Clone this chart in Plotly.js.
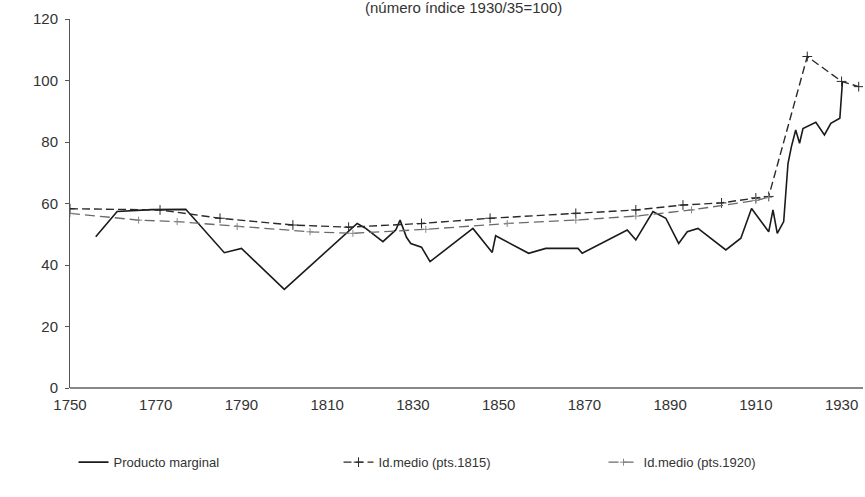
<!DOCTYPE html>
<html>
<head>
<meta charset="utf-8">
<script src="https://cdn.plot.ly/plotly-3.0.1.min.js"></script>
<style>html,body{margin:0;padding:0;background:#fff;}#chart{width:865px;height:497px;}</style>
</head>
<body>
<div id="chart"></div>
<script>
// Producto marginal (solid line)
const pmYears = [1756, 1761, 1769, 1777, 1786, 1790, 1800, 1817, 1819, 1823, 1826, 1827, 1828.5, 1829.5, 1832, 1834, 1844, 1848.5, 1849.3, 1857, 1861, 1868.5, 1869.5, 1880, 1882, 1886, 1889, 1892, 1894, 1896.5, 1903, 1906.5, 1909, 1913, 1914, 1915, 1916.5, 1917.5, 1918.3, 1919.3, 1920.2, 1921, 1924, 1926, 1927.5, 1929.6, 1930.2];
const pmValues = [49.2, 57.4, 58.0, 58.1, 44.0, 45.4, 32.1, 53.5, 51.9, 47.6, 51.4, 54.6, 49.0, 47.0, 45.8, 41.1, 51.9, 44.1, 49.5, 43.8, 45.4, 45.4, 43.8, 51.4, 48.2, 57.4, 55.2, 47.0, 50.8, 51.9, 44.9, 48.7, 58.4, 50.8, 57.9, 50.3, 54.1, 73.0, 78.5, 83.9, 79.6, 84.4, 86.4, 82.3, 86.1, 87.7, 99.5];

// Id.medio (pts.1815)
const m1815Years = [1750, 1771, 1785, 1802, 1815, 1832, 1848, 1868, 1882, 1893, 1902, 1910, 1913, 1922, 1930, 1934];
const m1815Values = [58.3, 57.9, 55.2, 53.0, 52.3, 53.5, 55.2, 56.8, 57.9, 59.5, 60.2, 61.8, 62.3, 107.8, 99.7, 98.0];

// Id.medio (pts.1920)
const m1920Years = [1750, 1766, 1775, 1789, 1806, 1816, 1833, 1852, 1868, 1882, 1895, 1910, 1913];
const m1920Values = [56.8, 54.6, 54.1, 52.5, 50.8, 50.3, 51.6, 53.5, 54.6, 55.9, 57.9, 61.0, 62.0];

const xTicks = [1750, 1770, 1790, 1810, 1830, 1850, 1870, 1890, 1910, 1930];
const yTicks = [0, 20, 40, 60, 80, 100, 120];

const traces = [
  {x: pmYears, y: pmValues, name: 'Producto marginal', type: 'scatter', mode: 'lines',
   line: {color: '#1a1a1a', width: 1.6}},
  {x: m1815Years, y: m1815Values, name: 'Id.medio (pts.1815)', type: 'scatter', mode: 'lines+markers',
   line: {color: '#2a2a2a', width: 1.4, dash: '8px,4px'},
   marker: {symbol: 'cross-thin', size: 7, line: {color: '#2a2a2a', width: 1}}},
  {x: m1920Years, y: m1920Values, name: 'Id.medio (pts.1920)', type: 'scatter', mode: 'lines+markers',
   line: {color: '#6a6a6a', width: 1.3, dash: '10px,5px'},
   marker: {symbol: 'cross-thin', size: 5, line: {color: '#888', width: 1}}}
];

const layout = {
  width: 865, height: 497,
  margin: {l: 70, r: 2, t: 19, b: 109},
  paper_bgcolor: '#fff', plot_bgcolor: '#fff',
  font: {family: 'Liberation Sans, Arial, sans-serif', size: 15, color: '#333'},
  title: {text: '(número índice 1930/35=100)', x: 0.536, xref: 'container', xanchor: 'center',
          y: 0.995, yref: 'container', yanchor: 'top', font: {size: 15, color: '#333'}},
  showlegend: true,
  legend: {orientation: 'h', xref: 'container', x: 0.085, xanchor: 'left',
           yref: 'container', y: 0.07, yanchor: 'middle',
           entrywidth: 220, font: {size: 13, color: '#333'}, bgcolor: 'rgba(0,0,0,0)'},
  xaxis: {range: [1750, 1935], tickvals: xTicks, ticktext: xTicks.map(String),
          showgrid: false, zeroline: false, showline: false, ticks: '', ticklabelstandoff: 6,
          fixedrange: true},
  yaxis: {range: [0, 120], tickvals: yTicks, ticktext: yTicks.map(String),
          showgrid: false, zeroline: true, zerolinecolor: '#888', zerolinewidth: 1.5,
          showline: true, linecolor: '#555', linewidth: 1, ticks: 'outside', ticklen: 4,
          tickcolor: '#555', ticklabelstandoff: 4, fixedrange: true}
};

Plotly.newPlot('chart', traces, layout, {displayModeBar: false, staticPlot: true});
</script>
</body>
</html>
